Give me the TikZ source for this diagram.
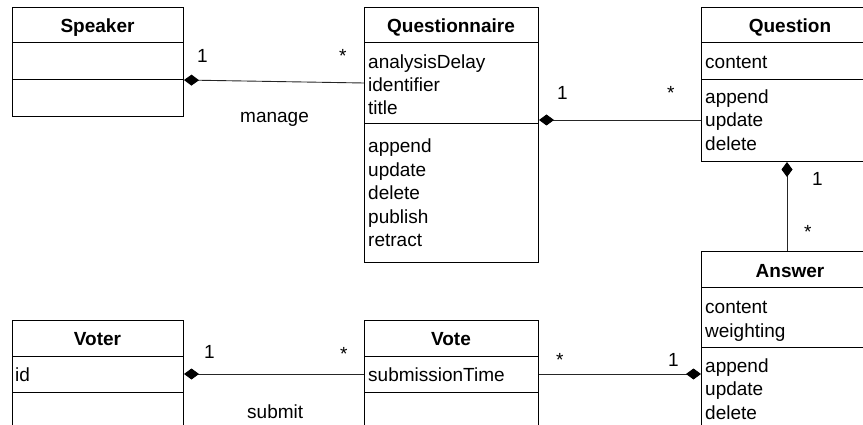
\documentclass[tikz,border=0pt]{standalone}
\usepackage{fontspec}
\setmainfont{Liberation Sans}
\usetikzlibrary{arrows.meta}
\begin{document}
\begin{tikzpicture}[x=1pt,y=-1pt,
  font=\fontsize{19}{23}\selectfont,
  box/.style={draw, line width=1pt, inner sep=0pt, anchor=north west},
  sep/.style={line width=1pt},
  txt/.style={anchor=base west, inner sep=0pt},
  head/.style={anchor=base, inner sep=0pt, font=\fontsize{19}{23}\selectfont\bfseries},
  lbl/.style={anchor=base west, inner sep=0pt},
  comp/.style={line width=0.9pt, draw=black!85, {Diamond[length=15pt,width=11pt,fill=black,color=black]}-}]
\path[use as bounding box] (0,0) rectangle (863,425);
\clip (0,0) rectangle (863,425);

% Speaker
\node[box, minimum width=171pt, minimum height=109pt] (speaker) at (12,7) {};
\draw[sep] (12,43) -- (183,43);
\draw[sep] (12,80) -- (183,80);
\node[head] (speaker-h) at (97.5,33) {Speaker};

% Questionnaire
\node[box, minimum width=174pt, minimum height=255pt] (qaire) at (364,7) {};
\draw[sep] (364,43) -- (538,43);
\draw[sep] (364,124) -- (538,124);
\node[head] (qaire-h) at (451,33) {Questionnaire};
\node[txt] (qa1) at (368,69) {analysisDelay};
\node[txt] (qa2) at (368,92) {identifier};
\node[txt] (qa3) at (368,115) {title};
\node[txt] (qo1) at (368,153) {append};
\node[txt] (qo2) at (368,177) {update};
\node[txt] (qo3) at (368,200) {delete};
\node[txt] (qo4) at (368,223) {publish};
\node[txt] (qo5) at (368,247) {retract};

% Question
\node[box, minimum width=179pt, minimum height=154pt] (question) at (701,7) {};
\draw[sep] (701,43) -- (880,43);
\draw[sep] (701,80) -- (880,80);
\node[head] (question-h) at (790,33) {Question};
\node[txt] (qsa1) at (705,69) {content};
\node[txt] (qso1) at (705,104) {append};
\node[txt] (qso2) at (705,127) {update};
\node[txt] (qso3) at (705,151) {delete};

% Answer
\node[box, minimum width=179pt, minimum height=209pt] (answer) at (701,251) {};
\draw[sep] (701,287) -- (880,287);
\draw[sep] (701,347) -- (880,347);
\node[head] (answer-h) at (790,277) {Answer};
\node[txt] (aa1) at (705,313) {content};
\node[txt] (aa2) at (705,337) {weighting};
\node[txt] (ao1) at (705,372) {append};
\node[txt] (ao2) at (705,395) {update};
\node[txt] (ao3) at (705,419) {delete};

% Vote
\node[box, minimum width=174pt, minimum height=140pt] (vote) at (364,320) {};
\draw[sep] (364,356) -- (538,356);
\draw[sep] (364,392) -- (538,392);
\node[head] (vote-h) at (451,345) {Vote};
\node[txt] (va1) at (368,381) {submissionTime};

% Voter
\node[box, minimum width=171pt, minimum height=140pt] (voter) at (12,320) {};
\draw[sep] (12,356) -- (183,356);
\draw[sep] (12,392) -- (183,392);
\node[head] (voter-h) at (97.5,345) {Voter};
\node[txt] (vra1) at (15,381) {id};

% Compositions
\draw[comp] (speaker.east |- 0,80) -- (qaire.west |- 0,83);
\draw[comp] (qaire.east |- 0,120) -- (question.west |- 0,120);
\draw[comp] (787,0 |- question.south) -- (787,0 |- answer.north);
\draw[comp] (answer.west |- 0,374) -- (vote.east |- 0,374);
\draw[comp] (voter.east |- 0,374) -- (vote.west |- 0,374);

% Multiplicities and role names
\node[lbl] (m1) at (197,63) {1};
\node[lbl] (m2) at (339,63) {*};
\node[lbl] (r1) at (240,123) {manage};
\node[lbl] (m3) at (557,100) {1};
\node[lbl] (m4) at (667,100) {*};
\node[lbl] (m5) at (812,186) {1};
\node[lbl] (m6) at (804,238) {*};
\node[lbl] (m7) at (556,366) {*};
\node[lbl] (m8) at (668,366) {1};
\node[lbl] (m9) at (204,358) {1};
\node[lbl] (m10) at (340,360) {*};
\node[lbl] (r2) at (247,418) {submit};
\end{tikzpicture}
\end{document}
